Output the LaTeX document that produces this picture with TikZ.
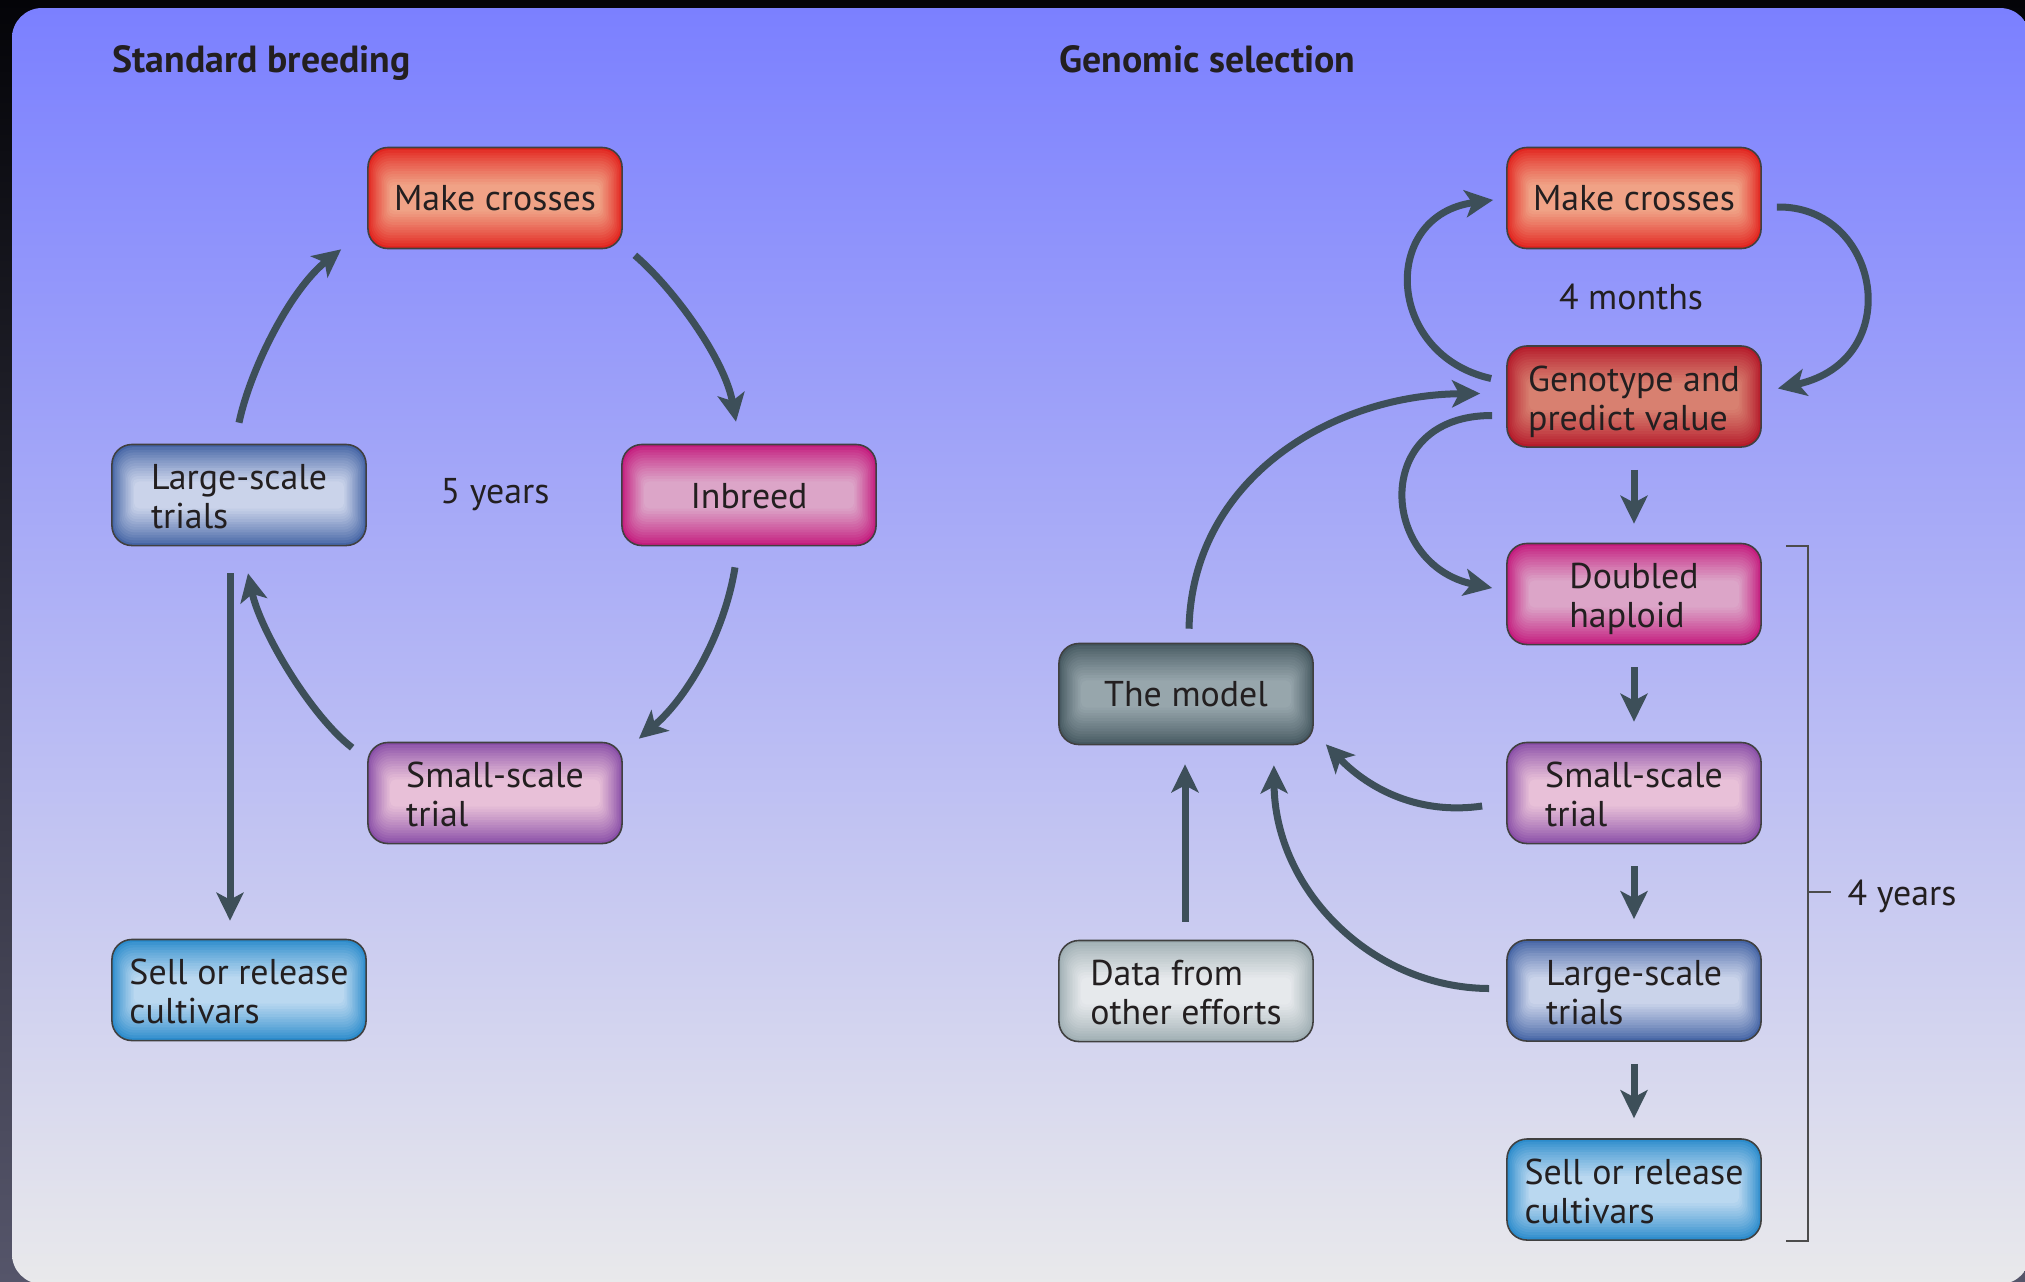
\documentclass[tikz,border=0pt]{standalone}
\usepackage{fontspec}
\setmainfont{PT Sans}
\usetikzlibrary{arrows.meta}
\definecolor{arrowc}{HTML}{3D4F59}
\definecolor{textc}{HTML}{231F20}
\definecolor{panelTop}{HTML}{7B80FF}
\definecolor{panelBot}{HTML}{E9E9EB}
\definecolor{outTop}{HTML}{040408}
\definecolor{outBot}{HTML}{55556A}
\definecolor{mcE}{HTML}{E2241F}\definecolor{mcC}{HTML}{F0A286}
\definecolor{genE}{HTML}{B51B2B}\definecolor{genC}{HTML}{D88070}
\definecolor{inbE}{HTML}{C41C7E}\definecolor{inbC}{HTML}{DCA5C8}
\definecolor{sstE}{HTML}{8A4FA8}\definecolor{sstC}{HTML}{E8C0D8}
\definecolor{lstE}{HTML}{4565A5}\definecolor{lstC}{HTML}{CAD3EA}
\definecolor{sellE}{HTML}{2C8CCC}\definecolor{sellC}{HTML}{BAD8F0}
\definecolor{modE}{HTML}{465961}\definecolor{modC}{HTML}{97A6AC}
\definecolor{datE}{HTML}{9FAEB3}\definecolor{datC}{HTML}{E6E9EC}
\newcommand\hgtstrut{\rule{0pt}{10.7pt}}
\newcommand\dptstrut{\rule[-2.5pt]{0pt}{0pt}}
\tikzset{
  box/.style={draw=black!75, line width=0.45pt, rounded corners=0.2cm,
    minimum width=2.54cm, minimum height=1.01cm, inner sep=0pt,
    align=left, text=textc},
  glow/.style 2 args={
    path picture={
      \fill[#1] (path picture bounding box.south west) rectangle (path picture bounding box.north east);
      \foreach \k in {1,...,14}{
        \pgfmathtruncatemacro\pc{round(100*(\k/14)^0.85)}
        \pgfmathsetmacro\rc{max(6.0-0.35*\k,1.5)}
        \fill[#2!\pc!#1, rounded corners=\rc pt]
          ([shift={(\k*0.45pt,-\k*0.75pt)}]path picture bounding box.north west)
          rectangle ([shift={(-\k*0.45pt,\k*0.75pt)}]path picture bounding box.south east);
      }
    }
  },
  flow/.style={draw=arrowc, line width=0.07cm,
    -{Stealth[length=0.28cm,width=0.27cm,inset=0.07cm]}},
  lbl/.style={text=textc, inner sep=0pt},
  ttl/.style={text=textc, inner sep=0pt, anchor=base west, font=\fontsize{10.75pt}{11.5pt}\selectfont\bfseries},
  brk/.style={draw=black!70, line width=0.45pt}
}
\begin{document}
\begin{tikzpicture}[x=0.01cm, y=-0.01cm, font=\fontsize{10.2pt}{11.1pt}\selectfont]
\useasboundingbox (0,0) rectangle (2025,1281);
\begin{scope}
  \clip (0,0) rectangle (2025,1281);
  \shade[top color=outTop, bottom color=outBot] (0,0) rectangle (2025,1281);
  \shade[top color=panelTop, bottom color=panelBot, rounded corners=0.3cm] (12,8) rectangle (2030,1284);
\end{scope}

% titles
\node[ttl] (tstd) at (112,72) {Standard breeding};
\node[ttl] (tgen) at (1059,72) {Genomic selection};

% left diagram
\node[box, glow={mcE}{mcC}] (lmc) at (495,198) {Make crosses};
\node[box, glow={inbE}{inbC}] (linb) at (749,495) {\rule{0pt}{7.6pt}Inbreed};
\node[box, glow={lstE}{lstC}] (llst) at (239,495) {\hgtstrut Large-scale\\trials\dptstrut};
\node[box, glow={sstE}{sstC}] (lsst) at (495,793) {\hgtstrut Small-scale\\trial\dptstrut};
\node[box, glow={sellE}{sellC}] (lsell) at (239,990) {\hgtstrut Sell or release\\cultivars\dptstrut};
\node[lbl] (l5y) at (495,495) {5 years};

\draw[flow] ([shift={(0,-21)}]llst.north) .. controls (250,370) and (290,290) .. ([shift={(-26,0)}]lmc.south west);
\draw[flow] ([shift={(12,6)}]lmc.south east) .. controls (675,290) and (725,360) .. ([shift={(-13,-22)}]linb.north);
\draw[flow] ([shift={(-14,21)}]linb.south) .. controls (725,630) and (690,695) .. ([shift={(16,-3)}]lsst.north east);
\draw[flow] ([shift={(-15,6)}]lsst.north west) .. controls (310,715) and (260,630) .. ([shift={(9,27)}]llst.south);
\draw[flow] ([shift={(-9,27)}]llst.south) -- ([shift={(-9,-18)}]lsell.north);

% right diagram
\node[box, glow={mcE}{mcC}] (rmc) at (1634,198) {Make crosses};
\node[box, glow={genE}{genC}] (rgen) at (1634,396.5) {\hgtstrut Genotype and\\predict value\dptstrut};
\node[box, glow={inbE}{inbC}] (rdh) at (1634,594) {\hgtstrut Doubled\\haploid\dptstrut};
\node[box, glow={sstE}{sstC}] (rsst) at (1634,793) {\hgtstrut Small-scale\\trial\dptstrut};
\node[box, glow={lstE}{lstC}] (rlst) at (1634,990.5) {\hgtstrut Large-scale\\trials\dptstrut};
\node[box, glow={sellE}{sellC}] (rsell) at (1634,1189.5) {\hgtstrut Sell or release\\cultivars\dptstrut};
\node[box, glow={modE}{modC}] (model) at (1186,694) {The model};
\node[box, glow={datE}{datC}] (data) at (1186,991) {\hgtstrut Data from\\other efforts\dptstrut};
\node[lbl] (r4m) at (1631,297) {4 months};

\draw[flow] ([shift={(15,9)}]rmc.east) .. controls (1880,205) and (1908,360) .. ([shift={(16,-8)}]rgen.east);
\draw[flow] ([shift={(-15,-18)}]rgen.west) .. controls (1385,355) and (1380,215) .. ([shift={(-13,2)}]rmc.west);
\draw[flow] ([shift={(0,22)}]rgen.south) -- ([shift={(0,-19)}]rdh.north);
\draw[flow] ([shift={(-14,19)}]rgen.west) .. controls (1370,415) and (1380,565) .. ([shift={(-14,-6)}]rdh.west);
\draw[flow] ([shift={(0,22)}]rdh.south) -- ([shift={(0,-20)}]rsst.north);
\draw[flow] ([shift={(0,22)}]rsst.south) -- ([shift={(0,-20)}]rlst.north);
\draw[flow] ([shift={(0,22)}]rlst.south) -- ([shift={(0,-20)}]rsell.north);
\draw[flow] ([shift={(3,-14)}]model.north) .. controls (1192,480) and (1330,395) .. ([shift={(-26,-3)}]rgen.west);
\draw[flow] ([shift={(-1,-18)}]data.north) -- ([shift={(-1,19)}]model.south);
\draw[flow] ([shift={(-17,-2)}]rlst.west) .. controls (1372,988) and (1275,890) .. ([shift={(-40,20)}]model.south east);
\draw[flow] ([shift={(-24,13)}]rsst.west) .. controls (1420,815) and (1370,790) .. ([shift={(12,-1)}]model.south east);

% bracket
\coordinate (bt) at (1786,546);
\coordinate (bb) at (1786,1241);
\coordinate (bm) at (1808,892);
\draw[brk] (bt) -- (1808,546) -- (1808,1241) -- (bb);
\draw[brk] (bm) -- (1831,892);
\node[lbl, anchor=west] (r4y) at (1847,896) {4 years};
\end{tikzpicture}
\end{document}
